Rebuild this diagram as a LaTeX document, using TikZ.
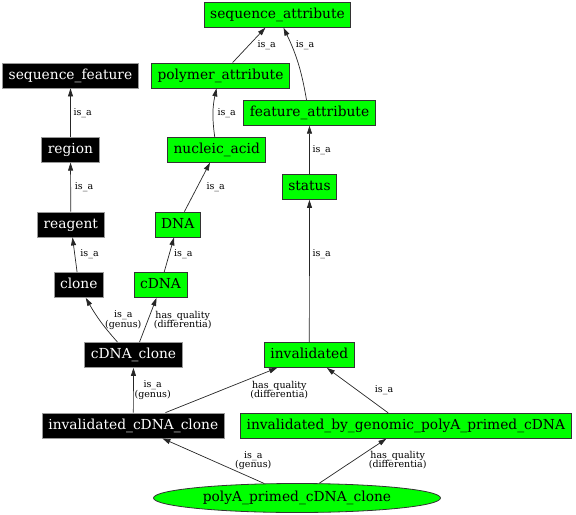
\documentclass[tikz,border=0pt]{standalone}
\usepackage{fontspec}
\setmainfont{DejaVu Serif}
\usepackage{tikz}
\usetikzlibrary{arrows.meta,shapes.geometric}
\definecolor{termgreen}{RGB}{0,255,0}
\tikzset{
  term/.style={rectangle,minimum height=25bp,inner xsep=6bp,inner ysep=0bp,text height=10.6bp,text depth=3bp,line width=0.8bp,font=\fontsize{13.8bp}{16bp}\selectfont},
  blackterm/.style={term,fill=black,draw=black!40,text=white},
  greenterm/.style={term,fill=termgreen,draw=black!80,text=black},
  rootterm/.style={ellipse,fill=termgreen,draw=black!80,line width=0.8bp,minimum width=287bp,minimum height=29bp,inner sep=0bp,font=\fontsize{13.8bp}{16bp}\selectfont},
  rel/.style={draw=black!85,line width=0.7bp,-{Triangle[length=8bp,width=5bp]}},
  rellabel/.style={align=center,inner sep=0bp,font=\fontsize{9.5bp}{9.6bp}\selectfont}
}

\begin{document}
\begin{tikzpicture}[x=1bp,y=-1bp]
  \useasboundingbox (0,0) rectangle (576,515);
  % terms
  \node[greenterm] (seqattr) at (277.5,14.8) {sequence\_attribute};
  \node[greenterm] (polyattr) at (220.5,75.5) {polymer\_attribute};
  \node[blackterm] (seqfeat) at (70.5,75.5) {sequence\_feature};
  \node[greenterm] (featattr) at (309.5,112.8) {feature\_attribute};
  \node[blackterm] (region) at (70.5,149.7) {region};
  \node[greenterm] (nucacid) at (216.7,149.7) {nucleic\_acid};
  \node[greenterm] (status) at (309.5,187) {status};
  \node[blackterm] (reagent) at (70.8,224.5) {reagent};
  \node[greenterm] (dna) at (177.7,224.5) {DNA};
  \node[blackterm] (clone) at (78.8,285) {clone};
  \node[greenterm] (cdna) at (160.5,285) {cDNA};
  \node[blackterm] (cdnaclone) at (133.5,355) {cDNA\_clone};
  \node[greenterm] (invalid) at (309.3,355) {invalidated};
  \node[blackterm] (invcdnaclone) at (133.3,425.5) {invalidated\_cDNA\_clone};
  \node[greenterm] (invbygen) at (405.8,425.8) {invalidated\_by\_genomic\_polyA\_primed\_cDNA};
  \node[rootterm] (polyaclone) at (297,498) {polyA\_primed\_cDNA\_clone};
  % is_a / has_quality links
  \draw[rel] (polyattr) -- (seqattr) node[rellabel] (l-polyattr) at (266.7,45) {is\_a};
  \draw[rel] ([xshift=-3bp]featattr.north) to[bend right=8] ([xshift=6bp]seqattr.south) node[rellabel] (l-featattr) at (305,45) {is\_a};
  \draw[rel] (region) -- (seqfeat) node[rellabel] (l-region) at (82.7,113.3) {is\_a};
  \draw[rel] ([xshift=-2bp]nucacid.north) to[bend left=10] ([xshift=-4bp]polyattr.south) node[rellabel] (l-nucacid) at (226.7,113) {is\_a};
  \draw[rel] (status) -- (featattr) node[rellabel] (l-status) at (321.7,150) {is\_a};
  \draw[rel] (reagent) -- (region) node[rellabel] (l-reagent) at (84,187.3) {is\_a};
  \draw[rel] (dna) -- (nucacid) node[rellabel] (l-dna) at (215.7,187.3) {is\_a};
  \draw[rel] (invalid) -- (status) node[rellabel] (l-invalid) at (321.7,254) {is\_a};
  \draw[rel] (clone) -- (reagent) node[rellabel] (l-clone) at (89.5,254) {is\_a};
  \draw[rel] (cdna) -- (dna) node[rellabel] (l-cdna) at (183.3,254) {is\_a};
  \draw[rel] ([xshift=-16bp]cdnaclone.north) to[bend left=6] ([xshift=7bp]clone.south) node[rellabel] (l-cdnaclone1) at (123.3,320) {is\_a\\(genus)};
  \draw[rel] ([xshift=6bp]cdnaclone.north) -- ([xshift=-4bp]cdna.south) node[rellabel] (l-cdnaclone2) at (182.7,320) {has\_quality\\(differentia)};
  \draw[rel] (invcdnaclone) -- (cdnaclone) node[rellabel] (l-invcdnaclone1) at (152.7,390) {is\_a\\(genus)};
  \draw[rel] (invcdnaclone) -- (invalid) node[rellabel] (l-invcdnaclone2) at (279.3,390) {has\_quality\\(differentia)};
  \draw[rel] (invbygen) -- (invalid) node[rellabel] (l-invbygen) at (384,390) {is\_a};
  \draw[rel] (polyaclone) -- (invcdnaclone) node[rellabel] (l-polyaclone1) at (253.3,460.7) {is\_a\\(genus)};
  \draw[rel] (polyaclone) -- (invbygen) node[rellabel] (l-polyaclone2) at (397.7,460) {has\_quality\\(differentia)};
\end{tikzpicture}
\end{document}
